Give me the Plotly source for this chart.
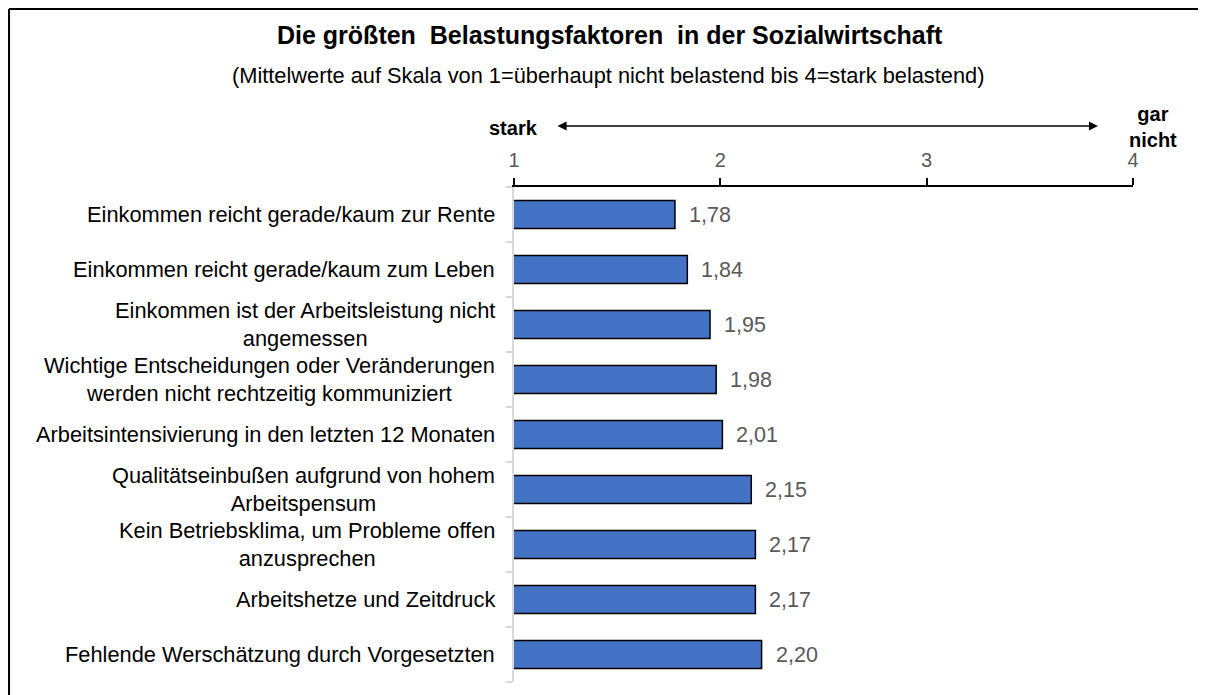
import plotly.graph_objects as go

categories = [
    "Einkommen reicht gerade/kaum zur Rente",
    "Einkommen reicht gerade/kaum zum Leben",
    "Einkommen ist der Arbeitsleistung nicht<br>angemessen",
    "Wichtige Entscheidungen oder Veränderungen<br>werden nicht rechtzeitig kommuniziert",
    "Arbeitsintensivierung in den letzten 12 Monaten",
    "Qualitätseinbußen aufgrund von hohem<br>Arbeitspensum",
    "Kein Betriebsklima, um Probleme offen<br>anzusprechen",
    "Arbeitshetze und Zeitdruck",
    "Fehlende Werschätzung durch Vorgesetzten",
]
values = [1.78, 1.84, 1.95, 1.98, 2.01, 2.15, 2.17, 2.17, 2.20]
tick_vals = [1, 2, 3, 4]
tick_text = ["1", "2", "3", "4"]

title = "Die größten  Belastungsfaktoren  in der Sozialwirtschaft"
subtitle = "(Mittelwerte auf Skala von 1=überhaupt nicht belastend bis 4=stark belastend)"

FONT = "Liberation Sans, Arial, sans-serif"
idx = list(range(len(categories)))

fig = go.Figure()
fig.add_trace(go.Bar(
    x=values, y=idx, orientation="h",
    marker=dict(color="#4472C4", line=dict(color="#000000", width=1.5)),
    hoverinfo="skip",
))

annotations = []
for i, (c, v) in enumerate(zip(categories, values)):
    annotations.append(dict(
        x=0, xref="paper", y=i, yref="y", text=c, showarrow=False,
        xanchor="right", yanchor="middle", align="center", xshift=-17,
        font=dict(family=FONT, size=21.8, color="#000000"),
    ))
    annotations.append(dict(
        x=v, xref="x", y=i, yref="y", text=f"{v:.2f}".replace(".", ","),
        showarrow=False, xanchor="left", yanchor="middle", xshift=12,
        font=dict(family=FONT, size=21.5, color="#595959"),
    ))

annotations += [
    dict(x=0.155, y=1.307, xref="paper", yref="paper", text="<b>" + title + "</b>",
         showarrow=False, xanchor="center", yanchor="middle",
         font=dict(family=FONT, size=25, color="#000000")),
    dict(x=0.152, y=1.226, xref="paper", yref="paper", text=subtitle,
         showarrow=False, xanchor="center", yanchor="middle",
         font=dict(family=FONT, size=21.8, color="#000000")),
    dict(x=0.042, y=1.119, xref="paper", yref="paper", text="<b>stark</b>",
         showarrow=False, xanchor="right", yanchor="middle",
         font=dict(family=FONT, size=20, color="#000000")),
    dict(x=1.032, y=1.121, xref="paper", yref="paper", text="<b>gar<br>nicht</b>",
         showarrow=False, xanchor="center", yanchor="middle",
         font=dict(family=FONT, size=20, color="#000000")),
    dict(x=3.83, y=1.123, xref="x", yref="paper", text="",
         showarrow=True, axref="x", ax=1.204, ayref="pixel", ay=0,
         arrowhead=2, arrowside="end+start", arrowsize=1.2, arrowwidth=1.5,
         arrowcolor="#000000"),
]

shapes = [
    dict(type="line", xref="paper", yref="paper", x0=-0.8158, x1=1.13, y0=1.3596, y1=1.3596,
         line=dict(color="#000000", width=2)),
    dict(type="line", xref="paper", yref="paper", x0=-0.8158, x1=-0.8158, y0=1.3596, y1=-0.03,
         line=dict(color="#000000", width=2)),
]

fig.update_layout(
    width=1198, height=687,
    margin=dict(l=506, r=73, t=179, b=13),
    paper_bgcolor="#FFFFFF", plot_bgcolor="#FFFFFF",
    showlegend=False, bargap=0.49,
    annotations=annotations, shapes=shapes,
    font=dict(family=FONT),
    xaxis=dict(
        side="top", range=[1, 4], tickvals=tick_vals, ticktext=tick_text,
        showgrid=False, zeroline=False, showline=True, linecolor="#000000", linewidth=1.5,
        ticks="outside", ticklen=7, tickwidth=1.5, tickcolor="#000000",
        tickfont=dict(family=FONT, size=20, color="#595959"), ticklabelstandoff=3,
    ),
    yaxis=dict(
        range=[len(categories) - 0.5, -0.5], showgrid=False, zeroline=False,
        showline=True, linecolor="#D9D9D9", linewidth=1.5,
        tickvals=[i + 0.5 for i in range(-1, len(categories))], ticktext=[""] * (len(categories) + 1),
        ticks="outside", ticklen=6, tickwidth=1.5, tickcolor="#D9D9D9",
        showticklabels=False,
    ),
)

fig.write_html("out.html")
